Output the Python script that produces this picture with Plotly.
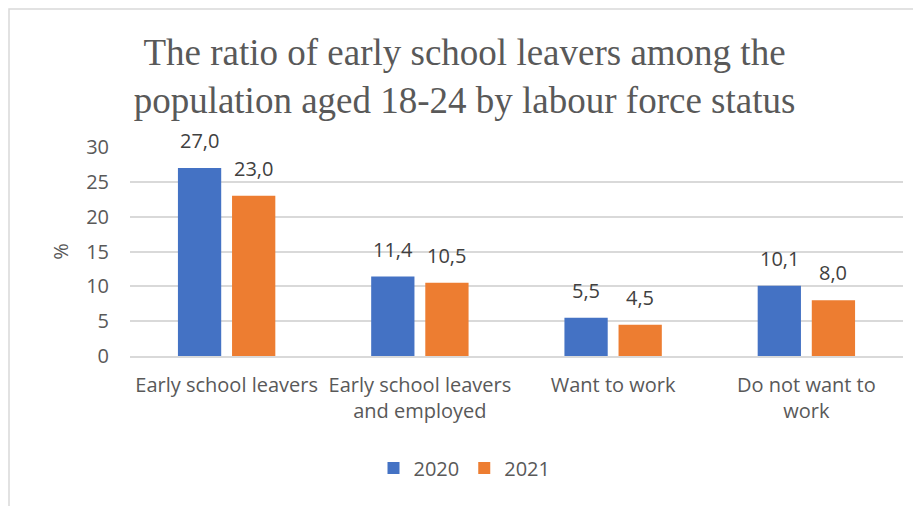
import plotly.graph_objects as go

categories = ["Early school leavers", "Early school leavers<br>and employed", "Want to work", "Do not want to<br>work"]
series_names = ["2020", "2021"]
values_2020 = [27.0, 11.4, 5.5, 10.1]
values_2021 = [23.0, 10.5, 4.5, 8.0]
colors = ["#4472C4", "#ED7D31"]

def fmt(v):
    return f"{v:.1f}".replace(".", ",")

font_fam = "Open Sans, sans-serif"
fs = 20

# page has an 8px body margin; figure origin sits at page (8, 8)
W, H = 913, 498
L, R, T, B = 122, 18, 139, 150
pw, ph = W - L - R, H - T - B
bargap = 0.44
slot = pw / len(categories) * (1 - bargap) / 2
offsets = [-slot / 2, slot / 2]

fig = go.Figure()
annotations = []
for name, vals, col, off in zip(series_names, [values_2020, values_2021], colors, offsets):
    fig.add_trace(go.Bar(
        x=categories, y=vals, name=name, marker=dict(color=col, line=dict(width=0)),
    ))
    for c, v in zip(categories, vals):
        annotations.append(dict(
            x=c, y=v, xref="x", yref="y", text=fmt(v), showarrow=False,
            xshift=off, yshift=12, yanchor="bottom", xanchor="center",
            font=dict(family=font_fam, size=fs, color="#404040"),
        ))

fig.update_layout(
    width=W, height=H,
    margin=dict(l=L, r=R, t=T, b=B, autoexpand=False),
    paper_bgcolor="white", plot_bgcolor="white",
    barmode="group", bargap=bargap, bargroupgap=0.2,
    title=dict(
        text="The ratio of early school leavers among the<br>population aged 18-24 by labour force status",
        font=dict(family="Liberation Serif, Times New Roman, serif", size=37, color="#595959"),
        x=0.5, xanchor="center", xref="container", y=1 - 57 / H, yanchor="middle", yref="container",
        automargin=False,
    ),
    font=dict(family=font_fam, size=fs, color="#595959"),
    xaxis=dict(showgrid=False, showline=True, linecolor="#D9D9D9", linewidth=1.5, ticks="",
               tickangle=0, automargin=False,
               ticklabelstandoff=10, tickfont=dict(size=fs, color="#595959")),
    yaxis=dict(range=[0, 30], dtick=5, showgrid=True, gridcolor="#D9D9D9", gridwidth=1.5,
               zeroline=False, showline=False, ticks="", ticklen=0, ticklabelstandoff=20,
               automargin=False,
               tickfont=dict(size=fs, color="#595959"),
               title=dict(text="%", font=dict(size=fs, color="#595959"), standoff=12)),
    legend=dict(orientation="h", x=0.5, xanchor="center", xref="container",
                y=1 - 460 / H, yanchor="middle", yref="container",
                font=dict(size=fs, color="#595959"), itemwidth=30, traceorder="normal"),
    showlegend=True,
    annotations=annotations,
    shapes=[dict(type="rect", xref="paper", yref="paper",
                 x0=(-L + 1) / pw, x1=1.2, y0=-1.0, y1=(ph + T - 1) / ph,
                 line=dict(color="#D9D9D9", width=1.5), layer="below")],
)

fig.write_html("out.html")
